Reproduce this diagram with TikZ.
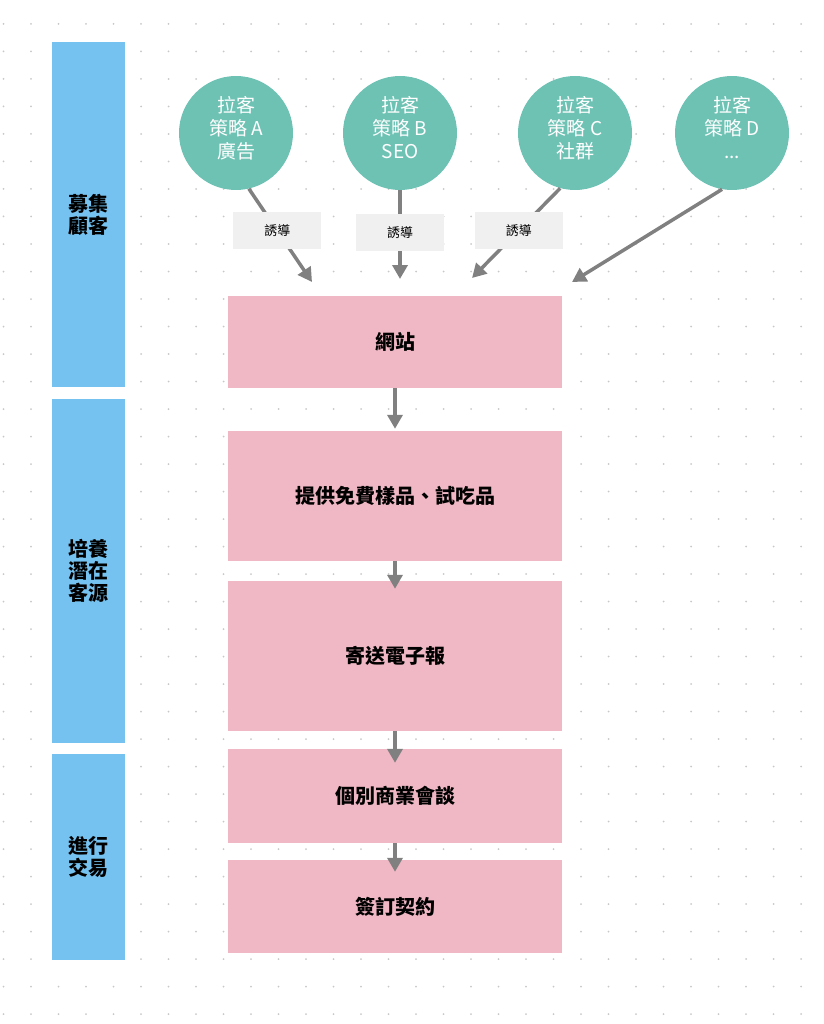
\documentclass[tikz,border=0pt]{standalone}
\usepackage{fontspec}
\setmainfont{Noto Sans CJK TC}
\usetikzlibrary{arrows.meta}
\definecolor{stagec}{RGB}{117,194,240}
\definecolor{stepc}{RGB}{240,183,196}
\definecolor{leadc}{RGB}{110,194,180}
\definecolor{tagc}{RGB}{240,240,240}
\definecolor{flowc}{RGB}{128,128,128}
\definecolor{dotc}{RGB}{200,200,200}
\begin{document}
\begin{tikzpicture}[x=1pt,y=-1pt,
	stage/.style={fill=stagec,minimum width=72.5pt,inner sep=0pt,align=center,font=\fontsize{20}{22}\selectfont\bfseries},
	stepbox/.style={fill=stepc,minimum width=334pt,inner sep=0pt,font=\fontsize{20}{24}\selectfont\bfseries},
	lead/.style={circle,fill=leadc,minimum size=114pt,inner sep=0pt,align=center,text=white,text depth=12pt,font=\fontsize{19}{23}\selectfont},
	tag/.style={fill=tagc,minimum width=88pt,minimum height=37pt,inner sep=0pt,text=black,font=\fontsize{13}{13}\selectfont},
	flow/.style={draw=flowc,line width=3.5pt,-{Triangle[length=14pt,width=15pt]}}]
	\useasboundingbox (0,0) rectangle (823,1024);
	\foreach \i in {0,...,29}
	\foreach \j in {0,...,36}
	{
		\fill[dotc] ({3.5+27.5*\i},{24+27.5*\j}) circle (1pt);
	}
	\node[stage,minimum height=345pt] (find) at (88.25,214.5) {募集\\顧客};
	\node[stage,minimum height=344pt] (grow) at (88.25,571) {培養\\潛在\\客源};
	\node[stage,minimum height=206pt] (deal) at (88.25,857) {進行\\交易};
	\node[lead] (cA) at (236,133) {拉客\\策略 A\\廣告};
	\node[lead] (cB) at (400,133) {拉客\\策略 B\\SEO};
	\node[lead] (cC) at (575,133) {拉客\\策略 C\\社群};
	\node[lead] (cD) at (732,133) {拉客\\策略 D\\...};
	\node[stepbox,minimum height=92pt] (web) at (395,342) {網站};
	\node[stepbox,minimum height=130pt] (sample) at (395,496) {提供免費樣品、試吃品};
	\node[stepbox,minimum height=150pt] (mail) at (395,656) {寄送電子報};
	\node[stepbox,minimum height=94pt] (talk) at (395,796) {個別商業會談};
	\node[stepbox,minimum height=93pt] (sign) at (395,906.5) {簽訂契約};
	\coordinate (tA) at (312,282);
	\coordinate (tB) at (400,279);
	\coordinate (tC) at (472,278);
	\coordinate (tD) at (572,282);
	\draw[flow] (cA.-77) -- node[tag,pos=0.45]{誘導} (tA);
	\draw[flow] (cB.south) -- node[tag,pos=0.48]{誘導} (tB);
	\draw[flow] (cC.-105) -- node[tag,pos=0.47]{誘導} (tC);
	\draw[flow] (cD.-100) -- (tD);
	\draw[flow,shorten >=2pt] (web) -- (sample);
	\draw[flow,shorten >=-8pt] (sample) -- (mail);
	\draw[flow,shorten >=-14pt] (mail) -- (talk);
	\draw[flow,shorten >=-12pt] (talk) -- (sign);
\end{tikzpicture}
\end{document}
